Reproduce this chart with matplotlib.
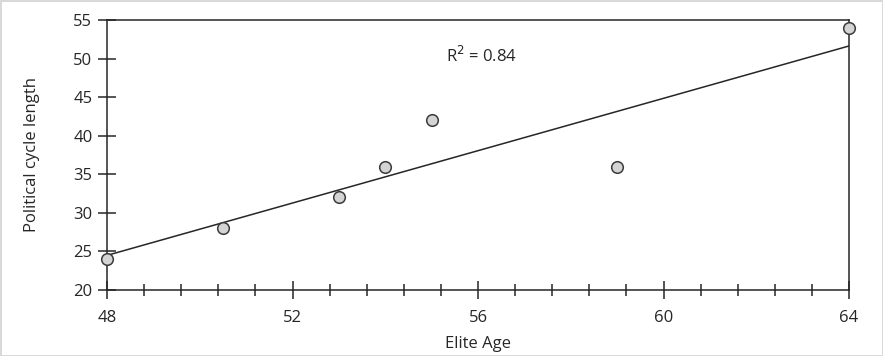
import matplotlib.pyplot as plt
import numpy as np
from matplotlib.ticker import MultipleLocator

elite_age = np.array([48, 50.5, 53, 54, 55, 59, 64])
cycle_len = np.array([24, 28, 32, 36, 42, 36, 54])

x_ticks = [48, 52, 56, 60, 64]
y_ticks = [20, 25, 30, 35, 40, 45, 50, 55]

plt.rcParams['font.family'] = ['Open Sans', 'DejaVu Sans']

fig = plt.figure(figsize=(8.83, 3.56), dpi=100)
fig.patch.set_edgecolor('#d9d9d9')
fig.patch.set_linewidth(2)
ax = fig.add_axes([107/883, 1-290/356, (849-107)/883, (290-20)/356])

# linear trend line and R^2
slope, icpt = np.polyfit(elite_age, cycle_len, 1)
fit = slope*elite_age + icpt
r2 = 1 - np.sum((cycle_len - fit)**2)/np.sum((cycle_len - cycle_len.mean())**2)
xx = np.array([x_ticks[0], x_ticks[-1]])
ax.plot(xx, slope*xx + icpt, color='#262626', lw=1.1, zorder=2)

ax.scatter(elite_age, cycle_len, s=70, facecolor='#d4d4d4', edgecolor='#3a3a3a',
           linewidth=1.1, zorder=3, clip_on=False)

ax.text(0.505, 0.868, 'R$^2$ = %.2f' % r2, transform=ax.transAxes, fontsize=12,
        color='#262626', ha='center', va='center')

ax.set_xlim(48, 64)
ax.set_ylim(20, 55)
ax.set_xticks(x_ticks)
ax.set_yticks(y_ticks)
ax.xaxis.set_minor_locator(MultipleLocator(0.8))
ax.tick_params(axis='both', which='major', direction='inout', length=13, width=1.1,
               color='#262626', labelsize=12, labelcolor='#262626')
ax.tick_params(axis='x', which='major', pad=8)
ax.tick_params(axis='y', which='major', pad=4)
ax.tick_params(axis='x', which='minor', direction='inout', length=8, width=1.1, color='#262626')

for s in ax.spines.values():
    s.set_color('#262626')
    s.set_linewidth(1.1)

ax.set_xlabel('Elite Age', fontsize=12, color='#262626', labelpad=7)
ax.set_ylabel('Political cycle length', fontsize=12, color='#262626', labelpad=24)

fig.savefig('out.png', dpi=100)
